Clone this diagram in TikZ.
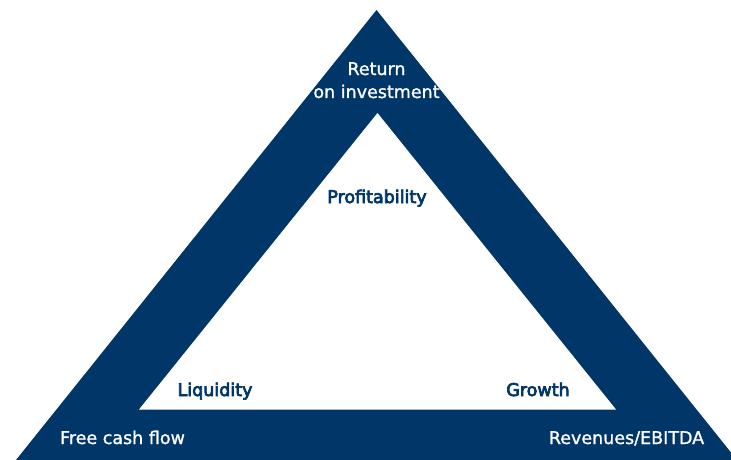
\documentclass[tikz,border=0pt]{standalone}
\usepackage{fontspec}
\setmainfont[FakeBold=1.2]{DejaVu Sans}
\newfontfamily\innerfont[FakeBold=4]{DejaVu Sans}
\definecolor{navy}{RGB}{0,54,104}
\begin{document}
\begin{tikzpicture}[x=1pt,y=-1pt,
  outerlabel/.style={text=white,font=\fontsize{17.5}{23}\selectfont,align=center,inner sep=0pt,anchor=base},
  innerlabel/.style={text=navy,font=\innerfont\fontsize{17.5}{23}\selectfont,align=center,inner sep=0pt,anchor=base}]
\useasboundingbox (0,0) rectangle (731,460);
\clip (0,0) rectangle (731,460);
\fill[navy] (376.5,10) -- (16,460) -- (737,460) -- cycle;
\fill[white] (377.5,113) -- (139,409.5) -- (616,409.5) -- cycle;
\node[outerlabel] (roi) at (376.5,98) {Return\\on investment};
\node[innerlabel] (prof) at (377,203) {Profitability};
\node[innerlabel] (liq) at (215,396) {Liquidity};
\node[innerlabel] (gro) at (538,396) {Growth};
\node[outerlabel] (fcf) at (122.5,444) {Free cash flow};
\node[outerlabel] (rev) at (626.5,444) {Revenues/EBITDA};
\end{tikzpicture}
\end{document}
